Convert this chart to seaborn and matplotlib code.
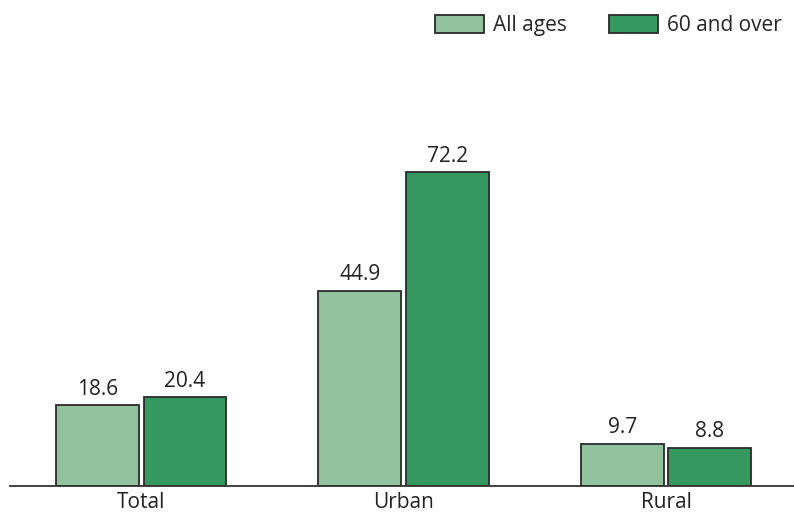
import pandas as pd
import matplotlib.pyplot as plt
import seaborn as sns

areas = ["Total", "Urban", "Rural"]
all_ages = [18.6, 44.9, 9.7]
sixty_over = [20.4, 72.2, 8.8]
series = ["All ages", "60 and over"]
colores = ["#93c29e", "#35985e"]

df = pd.DataFrame({
    "Area": areas * 2,
    "Grupo": [series[0]] * 3 + [series[1]] * 3,
    "Valor": all_ages + sixty_over,
})

sns.set_style("white")
plt.rcParams["font.family"] = ["Open Sans", "DejaVu Sans"]

fig = plt.figure(figsize=(7.94, 5.17), dpi=100)
ax = fig.add_axes([0.0126, 0.060, 0.987, 0.841])

sns.barplot(data=df, x="Area", y="Valor", hue="Grupo", palette=colores,
            saturation=1, width=0.667, gap=0.052, edgecolor="#2b2b2b",
            linewidth=1.3, ax=ax)

for cont in ax.containers:
    ax.bar_label(cont, fmt="%.1f", padding=4, fontsize=15, color="#222222")

ax.set_xlim(-0.5, 2.486)
ax.set_ylim(0, 100)
ax.set_xlabel("")
ax.set_ylabel("")
ax.set_yticks([])
for s in ["left", "right", "top"]:
    ax.spines[s].set_visible(False)
ax.spines["bottom"].set_color("#333333")
ax.spines["bottom"].set_linewidth(1.3)
ax.tick_params(axis="x", length=0, labelsize=15, colors="#222222", pad=4)

ax.legend(loc="upper right", bbox_to_anchor=(0.99, 0.98), bbox_transform=fig.transFigure,
          ncol=2, frameon=False, fontsize=15, handlelength=2.35, handleheight=0.96,
          columnspacing=2.0, handletextpad=0.45, borderaxespad=0.0, borderpad=0.2)

fig.savefig("out.png", dpi=100)
